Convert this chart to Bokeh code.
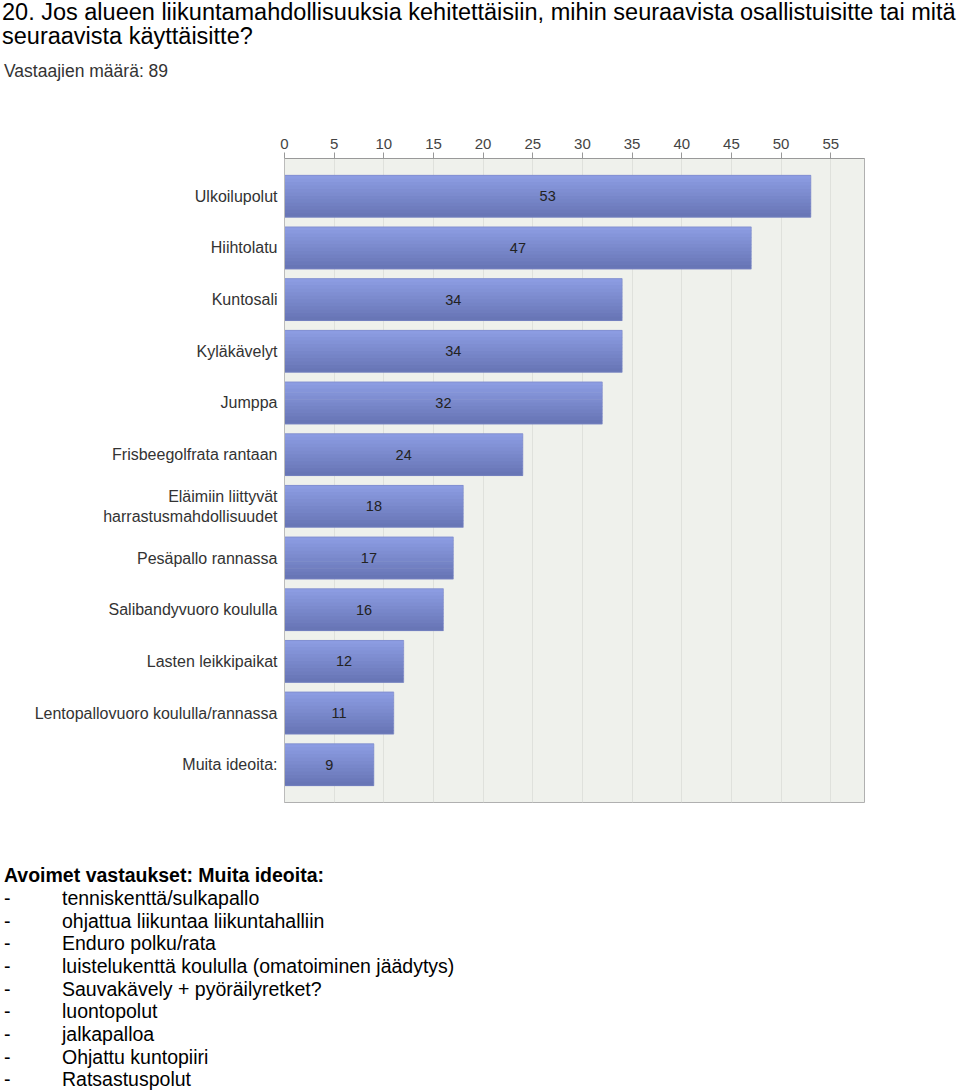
from bokeh.plotting import figure
from bokeh.layouts import column
from bokeh.models import ColumnDataSource, FactorRange, Range1d, FixedTicker, Div
from bokeh.transform import dodge
from bokeh.core.properties import value
from bokeh.embed import file_html
from bokeh.resources import INLINE

title_lines = ["20. Jos alueen liikuntamahdollisuuksia kehitettäisiin, mihin seuraavista osallistuisitte tai mitä",
               "seuraavista käyttäisitte?"]
subtitle = "Vastaajien määrä: 89"

categories = ["Ulkoilupolut", "Hiihtolatu", "Kuntosali", "Kyläkävelyt", "Jumppa",
              "Frisbeegolfrata rantaan", "Eläimiin liittyvät\nharrastusmahdollisuudet",
              "Pesäpallo rannassa", "Salibandyvuoro koululla", "Lasten leikkipaikat",
              "Lentopallovuoro koululla/rannassa", "Muita ideoita:"]
counts = [53, 47, 34, 34, 32, 24, 18, 17, 16, 12, 11, 9]
x_ticks = [0, 5, 10, 15, 20, 25, 30, 35, 40, 45, 50, 55]

open_heading = "Avoimet vastaukset: Muita ideoita:"
open_answers = ["tenniskenttä/sulkapallo", "ohjattua liikuntaa liikuntahalliin", "Enduro polku/rata",
                "luistelukenttä koululla (omatoiminen jäädytys)", "Sauvakävely + pyöräilyretket?",
                "luontopolut", "jalkapalloa", "Ohjattu kuntopiiri", "Ratsastuspolut"]

FONT = "Liberation Sans"
W = 960
TOP_H = 90
BOT_H = 242
MAIN_H = 1092 - TOP_H - BOT_H


def line_html(x, yc, text, size, lh, color="#000", bold=False):
    weight = "bold" if bold else "normal"
    return (f'<div style="position:absolute;left:{x}px;top:{yc - lh / 2:.1f}px;'
            f'font-size:{size}px;line-height:{lh}px;color:{color};font-weight:{weight};'
            f'white-space:nowrap;">{text}</div>')


def panel_div(height, inner):
    html = (f'<div style="position:relative;width:{W}px;height:{height}px;'
            f'font-family:\'{FONT}\',Arial,sans-serif;">{inner}</div>')
    return Div(text=html, width=W, height=height, margin=(0, 0, 0, 0))


# ---- header ----
hdr = "".join(line_html(2, 12 + 24 * k, t, 23.5, 26) for k, t in enumerate(title_lines))
hdr += line_html(4, 71, subtitle, 17.5, 20, "#333")
top = panel_div(TOP_H, hdr)

# ---- main chart ----
src = ColumnDataSource(dict(cat=categories, value=counts,
                            mid=[c / 2 for c in counts],
                            label=[str(c) for c in counts]))

p = figure(width=W, height=MAIN_H, output_backend="svg", toolbar_location=None,
           y_range=FactorRange(factors=list(reversed(categories)), range_padding=0.23,
                               range_padding_units="absolute"),
           x_range=Range1d(0, 58.4), x_axis_location="above",
           min_border_left=284, min_border_right=96,
           min_border_top=158 - TOP_H, min_border_bottom=(TOP_H + MAIN_H) - 802)
p.background_fill_color = "#eff1ec"
p.border_fill_color = "white"
p.outline_line_color = "#b0b0b0"

K = 12
H = 0.81
h = H / K
c_top = (0x8c, 0x9c, 0xe2)
c_bot = (0x68, 0x76, 0xb6)
for i in range(K):
    t = i / (K - 1)
    col = "#%02x%02x%02x" % tuple(int(round(a + (b - a) * t)) for a, b in zip(c_top, c_bot))
    d = H / 2 - h * (i + 0.5)
    p.hbar(y=dodge("cat", d, range=p.y_range), left=0, right="value", height=h * 1.2,
           source=src, fill_color=col, line_color=None)
p.hbar(y="cat", left=0, right="value", height=H, source=src, fill_color=None,
       line_color="#7d89c6", line_width=1, line_alpha=0.6)

p.text(x="mid", y="cat", text="label", source=src, text_align="center", text_baseline="middle",
       text_font=value(FONT), text_font_size="14.5px", text_color="#222222")

p.xaxis.ticker = FixedTicker(ticks=x_ticks)
p.xaxis.minor_tick_line_color = None
p.xaxis.major_tick_out = 6
p.xaxis.major_tick_in = 0
p.xaxis.axis_line_color = "#999999"
p.xaxis.major_tick_line_color = "#999999"
p.xaxis.major_label_text_font = FONT
p.xaxis.major_label_text_font_size = "15px"
p.xaxis.major_label_text_color = "#444444"
p.xaxis.major_label_standoff = 4

p.yaxis.major_tick_line_color = None
p.yaxis.minor_tick_line_color = None
p.yaxis.major_tick_out = 0
p.yaxis.axis_line_color = "#bbbbbb"
p.yaxis.major_label_text_font = FONT
p.yaxis.major_label_text_font_size = "16px"
p.yaxis.major_label_text_color = "#333333"
p.yaxis.major_label_standoff = 7

p.xgrid.grid_line_color = "#dfe1dc"
p.ygrid.grid_line_color = None

# ---- open answers ----
off = TOP_H + MAIN_H
ftr = line_html(4, 875 - off, open_heading, 19.5, 22, bold=True)
for k, ans in enumerate(open_answers):
    yc = 898 - off + 22.65 * k
    ftr += line_html(4, yc, "-", 19.5, 22)
    ftr += line_html(62, yc, ans, 19.5, 22)
bot = panel_div(BOT_H, ftr)

layout = column(top, p, bot, spacing=0)
open("out.html", "w").write(file_html(layout, INLINE))
